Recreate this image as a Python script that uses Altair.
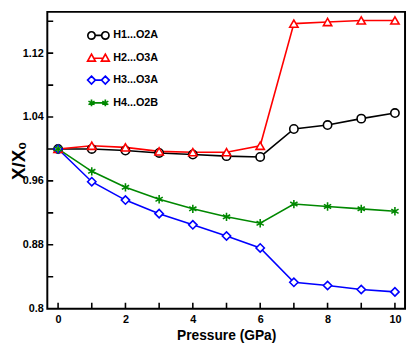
import altair as alt
import pandas as pd

pressure = [0, 1, 2, 3, 4, 5, 6, 7, 8, 9, 10]
h1_o2a = [1.000, 1.000, 0.998, 0.995, 0.993, 0.991, 0.990, 1.025, 1.030, 1.038, 1.045]
h2_o3a = [1.000, 1.004, 1.002, 0.997, 0.996, 0.996, 1.004, 1.157, 1.159, 1.161, 1.161]
h3_o3a = [1.000, 0.959, 0.936, 0.919, 0.905, 0.891, 0.876, 0.833, 0.829, 0.824, 0.821]
h4_o2b = [1.000, 0.972, 0.952, 0.937, 0.925, 0.915, 0.907, 0.931, 0.928, 0.925, 0.922]
series = ["H1...O2A", "H2...O3A", "H3...O3A", "H4...O2B"]
colors = ["#000000", "#ff0000", "#0000ff", "#008800"]
y_tick_values = [0.8, 0.84, 0.88, 0.92, 0.96, 1.0, 1.04, 1.08, 1.12, 1.16]
y_label_values = [0.8, 0.88, 0.96, 1.04, 1.12]
x_tick_values = [0, 1, 2, 3, 4, 5, 6, 7, 8, 9, 10]
x_label_values = [0, 2, 4, 6, 8, 10]

rows = []
for name, vals in zip(series, [h1_o2a, h2_o3a, h3_o3a, h4_o2b]):
    for p, v in zip(pressure, vals):
        rows.append({"pressure": p, "ratio": v, "series": name})
df = pd.DataFrame(rows)

FONT = "Liberation Sans, Arial, sans-serif"

point_shapes = [
    "circle",
    "triangle-up",
    "diamond",
    "M0,-1L0,1M-0.87,-0.5L0.87,0.5M-0.87,0.5L0.87,-0.5",
]
legend_shapes = [
    "M-0.98,0A0.34,0.34 0 1,1 -0.30,0A0.34,0.34 0 1,1 -0.98,0ZM-0.30,0L0.30,0M0.30,0A0.34,0.34 0 1,1 0.98,0A0.34,0.34 0 1,1 0.30,0Z",
    "M-0.64,-0.38L-0.28,0.26L-1,0.26ZM-0.40,0L0.40,0M0.64,-0.38L1,0.26L0.28,0.26Z",
    "M-0.64,-0.36L-0.28,0L-0.64,0.36L-1,0ZM-0.28,0L0.28,0M0.64,-0.36L1,0L0.64,0.36L0.28,0Z",
    "M-0.64,-0.32L-0.64,0.32M-0.92,-0.16L-0.36,0.16M-0.92,0.16L-0.36,-0.16M-0.64,0L0.64,0M0.64,-0.32L0.64,0.32M0.36,-0.16L0.92,0.16M0.36,0.16L0.92,-0.16",
]
stroke_widths = [1.6, 1.6, 1.6, 2.6]

x_scale = alt.Scale(domain=[-0.32, 10.3], nice=False, zero=False)
y_scale = alt.Scale(domain=[0.8, 1.1717], nice=False, zero=False)

x_enc = alt.X(
    "pressure:Q",
    scale=x_scale,
    axis=alt.Axis(
        values=x_label_values, format="d", title="Pressure (GPa)",
        ticks=False, tickSize=0, domain=False, grid=False,
        labelFont=FONT, labelFontSize=11, labelFontWeight="bold", labelColor="black",
        labelPadding=5, titleFont=FONT, titleFontSize=14, titleFontWeight="bold",
        titleColor="black", titlePadding=4,
    ),
)
y_enc = alt.Y(
    "ratio:Q",
    scale=y_scale,
    axis=alt.Axis(
        values=y_label_values, format="~g", title="X/X₀",
        ticks=False, tickSize=0, domain=False, grid=False,
        labelFont=FONT, labelFontSize=11, labelFontWeight="bold", labelColor="black",
        labelPadding=4, titleFont=FONT, titleFontSize=19,
        titleFontWeight="bold", titleColor="black",
        titleX=-23, titleBaseline="alphabetic",
    ),
)

base = alt.Chart(df)

lines = base.mark_line(strokeWidth=1.6).encode(
    x=x_enc, y=y_enc,
    color=alt.Color("series:N", scale=alt.Scale(domain=series, range=colors), legend=None),
)

points = base.mark_point(filled=False, fill="white", size=72, opacity=1).encode(
    x=x_enc, y=y_enc,
    color=alt.Color("series:N", scale=alt.Scale(domain=series, range=colors), legend=None),
    shape=alt.Shape("series:N", scale=alt.Scale(domain=series, range=point_shapes), legend=None),
    strokeWidth=alt.StrokeWidth("series:N", scale=alt.Scale(domain=series, range=stroke_widths), legend=None),
)

leg = alt.Legend(
    orient="none", legendX=40, legendY=12, title=None, symbolSize=484,
    symbolStrokeWidth=1.7, symbolOpacity=1, symbolFillColor="transparent",
    labelFont=FONT, labelFontSize=11, labelFontWeight="bold", labelColor="black",
    labelOffset=3, rowPadding=3.2, padding=0,
)

legend_layer = base.mark_point(filled=False, opacity=0, strokeWidth=1.6).encode(
    x=x_enc, y=y_enc,
    color=alt.Color("series:N", scale=alt.Scale(domain=series, range=colors), legend=leg),
    shape=alt.Shape("series:N", scale=alt.Scale(domain=series, range=legend_shapes), legend=leg),
)

y_ticks = alt.Chart(pd.DataFrame({"ratio": y_tick_values})).mark_tick(
    color="black", orient="horizontal", size=12, thickness=1.6, clip=True, opacity=1
).encode(y=alt.Y("ratio:Q", scale=y_scale), x=alt.value(0))

x_ticks = alt.Chart(pd.DataFrame({"pressure": x_tick_values})).mark_tick(
    color="black", orient="vertical", size=12, thickness=1.6, clip=True, opacity=1
).encode(x=alt.X("pressure:Q", scale=x_scale), y=alt.value(302))

chart = (
    alt.layer(lines, points, legend_layer, y_ticks, x_ticks)
    .resolve_scale(color="independent", shape="independent", strokeWidth="independent")
    .properties(
        width=364, height=302,
        autosize=alt.AutoSizeParams(type="none"),
        padding={"left": 40, "top": 1, "right": 2, "bottom": 32},
        background="white",
    )
    .configure_view(stroke="black", strokeWidth=2)
)

chart.save("out.html", embed_options={"renderer": "svg", "actions": False})
